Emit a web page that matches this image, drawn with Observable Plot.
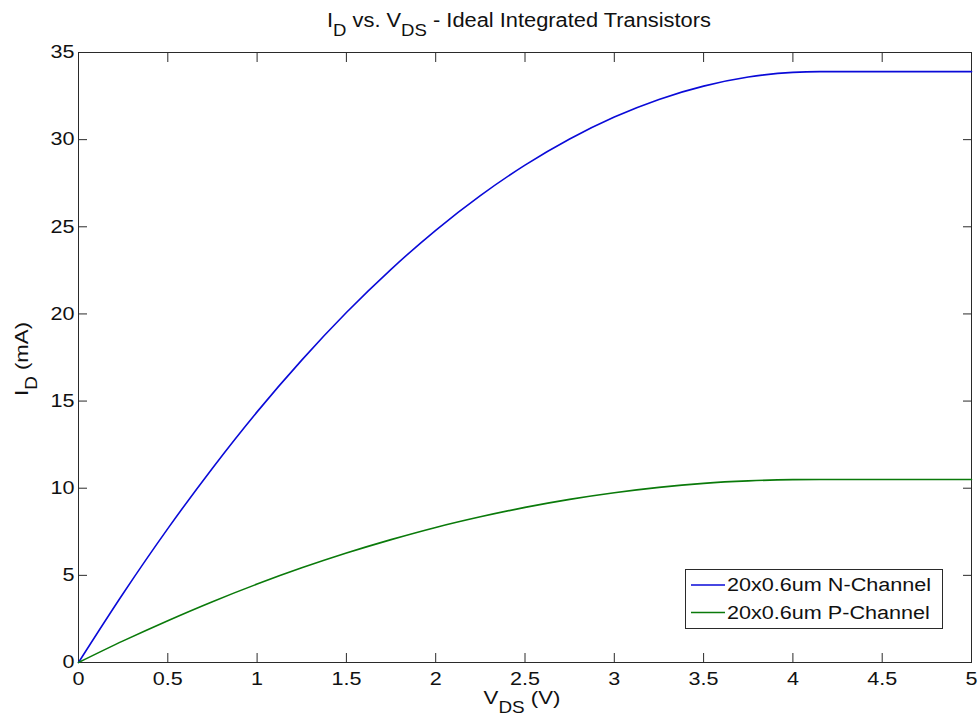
<!DOCTYPE html>
<html>
<head>
<meta charset="utf-8">
<script src="https://cdn.jsdelivr.net/npm/d3@7"></script>
<script src="https://cdn.jsdelivr.net/npm/@observablehq/plot@0.6"></script>
<style>
  html, body { margin: 0; padding: 0; background: #fff; }
  #chart svg { display: block; }
</style>
</head>
<body>
<div id="chart"></div>
<script>
// V_DS sample points (V)
const vds = [0, 0.25, 0.5, 0.75, 1.0, 1.25, 1.5, 1.75, 2.0, 2.25, 2.5, 2.75, 3.0, 3.25, 3.5, 3.75, 4.0, 4.15, 4.5, 5.0];
// I_D (mA), 20x0.6um N-Channel
const idN = [0, 3.96, 7.68, 11.15, 14.38, 17.35, 20.08, 22.56, 24.80, 26.79, 28.54, 30.04, 31.30, 32.31, 33.07, 33.59, 33.86, 33.90, 33.90, 33.90];
// I_D (mA), 20x0.6um P-Channel
const idP = [0, 1.24, 2.40, 3.49, 4.50, 5.43, 6.28, 7.05, 7.75, 8.36, 8.90, 9.36, 9.74, 10.05, 10.28, 10.42, 10.49, 10.50, 10.50, 10.50];

const seriesNames = ["20x0.6um N-Channel", "20x0.6um P-Channel"];
const seriesColors = ["#0a0ad8", "#0a7a0a"];
const xTicks = [0, 0.5, 1, 1.5, 2, 2.5, 3, 3.5, 4, 4.5, 5];
const yTicks = [0, 5, 10, 15, 20, 25, 30, 35];

const data = [];
vds.forEach((v, i) => {
  data.push({ v, id: idN[i], s: seriesNames[0] });
  data.push({ v, id: idP[i], s: seriesNames[1] });
});

const font = "'Liberation Sans', Arial, Helvetica, sans-serif";
const axisColor = "#2a2a2a";
const textColor = "#111";

const plot = Plot.plot({
  width: 980,
  height: 719,
  marginLeft: 78,
  marginRight: 9,
  marginTop: 52,
  marginBottom: 57,
  style: { fontFamily: font, background: "#fff", overflow: "visible" },
  x: { domain: [0, 5], label: null },
  y: { domain: [0, 35], label: null },
  color: { domain: seriesNames, range: seriesColors },
  marks: [
    Plot.frame({ stroke: axisColor, strokeWidth: 1 }),
    // inward ticks on all four sides
    Plot.axisX({ anchor: "bottom", ticks: xTicks, tickSize: -9, tickFormat: () => "", stroke: axisColor, label: null }),
    Plot.axisX({ anchor: "top", ticks: xTicks, tickSize: -9, tickFormat: () => "", stroke: axisColor, label: null }),
    Plot.axisY({ anchor: "left", ticks: yTicks, tickSize: -9, tickFormat: () => "", stroke: axisColor, label: null }),
    Plot.axisY({ anchor: "right", ticks: yTicks, tickSize: -9, tickFormat: () => "", stroke: axisColor, label: null }),
    // tick labels
    Plot.axisX({ anchor: "bottom", ticks: xTicks, tickSize: 0, tickPadding: 10, tickFormat: d => String(d), fontSize: 18, fill: textColor, label: null }),
    Plot.axisY({ anchor: "left", ticks: yTicks, tickSize: 0, tickPadding: 4, tickFormat: d => String(d), fontSize: 18, fill: textColor, label: null }),
    Plot.line(data, { x: "v", y: "id", z: "s", stroke: "s", strokeWidth: 1.6, curve: "monotone-x" })
  ]
});

document.getElementById("chart").appendChild(plot);

const svg = d3.select(plot);

function subText(g, parts, attrs, shift) {
  const t = g.append("text");
  Object.entries(attrs).forEach(([k, v]) => t.attr(k, v));
  parts.forEach(([s, sub]) => {
    const ts = t.append("tspan").text(s);
    if (sub) ts.attr("baseline-shift", -shift).attr("font-size", "0.85em");
  });
  return t;
}

// Title
const title = subText(svg, [["I", false], ["D", true], [" vs. V", false], ["DS", true], [" - Ideal Integrated Transistors", false]],
  { x: 519, y: 26.5, "text-anchor": "middle", "font-family": font, "font-size": 19.5, fill: textColor, class: "fixed" }, 9);

// X axis label
subText(svg, [["V", false], ["DS", true], [" (V)", false]],
  { x: 522, y: 704, "text-anchor": "middle", "font-family": font, "font-size": 18.5, fill: textColor }, 9);

// Y axis label
subText(svg, [["I", false], ["D", true], [" (mA)", false]],
  { transform: "translate(28,359) rotate(-90)", "text-anchor": "middle", "font-family": font, "font-size": 18.5, fill: textColor }, 9);

// Legend
const lg = svg.append("g");
lg.append("rect").attr("x", 685.5).attr("y", 569.5).attr("width", 257).attr("height", 59)
  .attr("fill", "#fff").attr("stroke", axisColor).attr("stroke-width", 1);
seriesNames.forEach((name, i) => {
  const yy = 585 + i * 27.5;
  lg.append("line").attr("x1", 691).attr("x2", 725).attr("y1", yy).attr("y2", yy)
    .attr("stroke", seriesColors[i]).attr("stroke-width", 1.6);
  lg.append("text").attr("x", 727).attr("y", yy).attr("dy", "0.36em")
    .attr("text-anchor", "start")
    .attr("font-family", font).attr("font-size", 18).attr("fill", textColor).text(name);
});

// The reference figure's text is horizontally wider than Arial metrics: stretch glyphs slightly
svg.selectAll("text").each(function () {
  const L = this.getComputedTextLength();
  if (L > 0) {
    const k = this.classList.contains("fixed") ? 1.12 : 1.2;
    d3.select(this).attr("textLength", (L * k).toFixed(1)).attr("lengthAdjust", "spacingAndGlyphs");
  }
});
</script>
</body>
</html>
